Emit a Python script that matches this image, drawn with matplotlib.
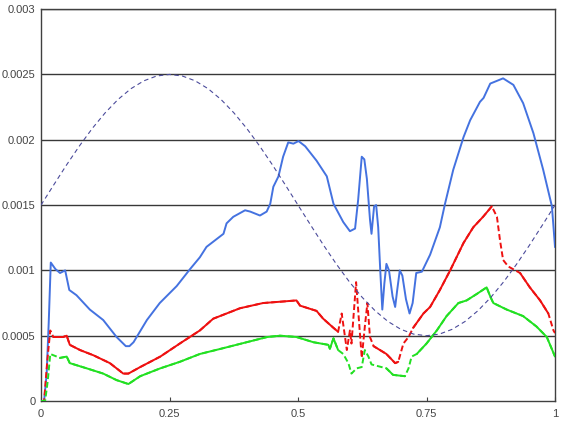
import numpy as np
import matplotlib
matplotlib.use("Agg")
import matplotlib.pyplot as plt
from matplotlib.ticker import FixedLocator, FixedFormatter

# blue series
blue_x = [0.000, 0.006, 0.011, 0.015, 0.019, 0.028, 0.037, 0.047, 0.055, 0.069,
          0.095, 0.121, 0.147, 0.165, 0.172, 0.180, 0.206, 0.231, 0.264, 0.290,
          0.309, 0.322, 0.355, 0.361, 0.374, 0.397, 0.407, 0.426, 0.439, 0.446,
          0.452, 0.462, 0.471, 0.481, 0.491, 0.501, 0.514, 0.536, 0.556, 0.569,
          0.588, 0.601, 0.611, 0.617, 0.624, 0.629, 0.634, 0.640, 0.643, 0.648,
          0.652, 0.656, 0.660, 0.664, 0.668, 0.672, 0.677, 0.684, 0.689, 0.693,
          0.698, 0.703, 0.710, 0.717, 0.723, 0.730, 0.741, 0.757, 0.776, 0.786,
          0.802, 0.822, 0.835, 0.854, 0.861, 0.874, 0.899, 0.919, 0.938, 0.958,
          0.977, 0.994, 1.000]
blue_y = [0.0, 0.0, 0.00021, 0.00060, 0.00106, 0.00101, 0.00098, 0.00100, 0.00085, 0.00081,
          0.00070, 0.00062, 0.00049, 0.00042, 0.00042, 0.00045, 0.00062, 0.00075, 0.00088, 0.00101,
          0.00110, 0.00118, 0.00128, 0.00136, 0.00141, 0.00146, 0.00145, 0.00142, 0.00145, 0.00151,
          0.00164, 0.00172, 0.00187, 0.00198, 0.00197, 0.00199, 0.00195, 0.00184, 0.00172, 0.00151,
          0.00137, 0.00130, 0.00132, 0.00154, 0.00187, 0.00185, 0.00170, 0.00139, 0.00128, 0.00149,
          0.00150, 0.00133, 0.00100, 0.00070, 0.00090, 0.00105, 0.00100, 0.00080, 0.00072, 0.00085,
          0.00100, 0.00096, 0.00078, 0.00067, 0.00075, 0.00098, 0.00099, 0.00112, 0.00133, 0.00151,
          0.00177, 0.00202, 0.00215, 0.00229, 0.00232, 0.00243, 0.00247, 0.00242, 0.00228, 0.00205,
          0.00177, 0.00149, 0.00118]

# red series
red_x = [0.000, 0.006, 0.012, 0.018, 0.024, 0.043, 0.050, 0.056, 0.076, 0.102,
         0.134, 0.160, 0.170, 0.193, 0.232, 0.270, 0.309, 0.335, 0.387, 0.432,
         0.465, 0.497, 0.504, 0.536, 0.549, 0.569, 0.578, 0.585, 0.595, 0.601,
         0.604, 0.613, 0.624, 0.630, 0.635, 0.640, 0.647, 0.672, 0.689, 0.695,
         0.705, 0.715, 0.724, 0.744, 0.757, 0.776, 0.796, 0.822, 0.841, 0.860,
         0.877, 0.887, 0.893, 0.899, 0.909, 0.932, 0.951, 0.971, 0.987, 0.997,
         1.000]
red_y = [0.0, 0.0, 0.00030, 0.00054, 0.00049, 0.00049, 0.00050, 0.00043, 0.00039, 0.00035,
         0.00029, 0.00021, 0.00021, 0.00026, 0.00034, 0.00044, 0.00054, 0.00063, 0.00071, 0.00075,
         0.00076, 0.00077, 0.00073, 0.00069, 0.00063, 0.00056, 0.00053, 0.00067, 0.00039, 0.00054,
         0.00044, 0.00091, 0.00033, 0.00057, 0.00075, 0.00049, 0.00042, 0.00036, 0.00029, 0.00030,
         0.00044, 0.00049, 0.00056, 0.00067, 0.00072, 0.00085, 0.00100, 0.00121, 0.00133, 0.00141,
         0.00149, 0.00141, 0.00123, 0.00108, 0.00103, 0.00098, 0.00087, 0.00077, 0.00067, 0.00054,
         0.00052]

# green series
green_x = [0.000, 0.008, 0.013, 0.018, 0.037, 0.050, 0.056, 0.089, 0.121, 0.147,
           0.170, 0.193, 0.232, 0.270, 0.309, 0.350, 0.400, 0.440, 0.465, 0.497,
           0.530, 0.559, 0.562, 0.569, 0.578, 0.588, 0.598, 0.604, 0.614, 0.624,
           0.630, 0.637, 0.643, 0.672, 0.685, 0.708, 0.715, 0.721, 0.731, 0.750,
           0.770, 0.789, 0.812, 0.828, 0.848, 0.867, 0.874, 0.880, 0.906, 0.938,
           0.964, 0.984, 1.000]
green_y = [0.0, 0.0, 0.00015, 0.00036, 0.00033, 0.00034, 0.00029, 0.00025, 0.00021, 0.00016,
           0.00013, 0.00019, 0.00025, 0.00030, 0.00036, 0.00040, 0.00045, 0.00049, 0.00050, 0.00049,
           0.00045, 0.00043, 0.00040, 0.00048, 0.00039, 0.00036, 0.00029, 0.00021, 0.00025, 0.00026,
           0.00039, 0.00034, 0.00028, 0.00025, 0.00020, 0.00019, 0.00025, 0.00034, 0.00036, 0.00044,
           0.00054, 0.00065, 0.00075, 0.00077, 0.00082, 0.00087, 0.00080, 0.00075, 0.00070, 0.00065,
           0.00057, 0.00049, 0.00034]

# thin dashed reference curve
ref_x = [0.000, 0.025, 0.050, 0.075, 0.100, 0.125, 0.150, 0.175, 0.200, 0.225,
         0.250, 0.275, 0.300, 0.325, 0.350, 0.375, 0.400, 0.425, 0.450, 0.475,
         0.500, 0.525, 0.550, 0.575, 0.600, 0.625, 0.650, 0.675, 0.700, 0.725,
         0.750, 0.775, 0.800, 0.825, 0.850, 0.875, 0.900, 0.925, 0.950, 0.975,
         1.000]
ref_y = [0.001500, 0.001656, 0.001809, 0.001954, 0.002088, 0.002207, 0.002309, 0.002391, 0.002451, 0.002488,
         0.002500, 0.002488, 0.002451, 0.002391, 0.002309, 0.002207, 0.002088, 0.001954, 0.001809, 0.001656,
         0.001500, 0.001344, 0.001191, 0.001046, 0.000912, 0.000793, 0.000691, 0.000609, 0.000549, 0.000512,
         0.000500, 0.000512, 0.000549, 0.000609, 0.000691, 0.000793, 0.000912, 0.001046, 0.001191, 0.001344,
         0.001500]

x_ticks = [0, 0.25, 0.5, 0.75, 1]
x_labels = ["0", "0.25", "0.5", "0.75", "1"]
y_ticks = [0, 0.0005, 0.001, 0.0015, 0.002, 0.0025, 0.003]
y_labels = ["0", "0.0005", "0.001", "0.0015", "0.002", "0.0025", "0.003"]

# x ranges where the red / green lines are drawn broken
red_gaps = [(0.006, 0.02), (0.58, 0.645), (0.70, 0.72), (0.88, 0.91), (0.99, 1.01)]
green_gaps = [(0.008, 0.02), (0.585, 0.645), (0.71, 0.73)]


def plot_broken(ax, x, y, gaps, color):
    x = np.array(x)
    y = np.array(y, dtype=float)
    ax.plot(x, y, color=color, lw=1.4, linestyle=(0, (3, 1.5)), zorder=3)
    solid = y.copy()
    for lo, hi in gaps:
        solid[(x > lo) & (x < hi)] = np.nan
    ax.plot(x, solid, color=color, lw=1.4, zorder=3, solid_capstyle="round")


plt.rcParams["font.family"] = ["Liberation Sans", "DejaVu Sans"]

fig = plt.figure(figsize=(5.72, 4.34), dpi=100)
ax = fig.add_axes([0.0717, 0.076, 0.8986, 0.903])

for yv in y_ticks[1:]:
    ax.axhline(yv, color="#383838", lw=1.0, zorder=1)

ax.plot(blue_x, blue_y, color="#4472E0", lw=1.4, zorder=3)
plot_broken(ax, red_x, red_y, red_gaps, "#EE1111")
plot_broken(ax, green_x, green_y, green_gaps, "#22E022")
ax.plot(ref_x, ref_y, color="#4B4B9B", lw=0.8, linestyle=(0, (4, 3)), zorder=4)

ax.set_xlim(0, 1)
ax.set_ylim(0, 0.003)
ax.xaxis.set_major_locator(FixedLocator(x_ticks))
ax.xaxis.set_major_formatter(FixedFormatter(x_labels))
ax.yaxis.set_major_locator(FixedLocator(y_ticks))
ax.yaxis.set_major_formatter(FixedFormatter(y_labels))
ax.tick_params(axis="x", direction="in", length=3, width=0.8, colors="#444444",
               labelsize=8, pad=6)
ax.tick_params(axis="y", direction="out", length=0, colors="#444444",
               labelsize=8, pad=4)
for s in ax.spines.values():
    s.set_color("#404040")
    s.set_linewidth(1.0)

fig.savefig("out.png", dpi=100)
